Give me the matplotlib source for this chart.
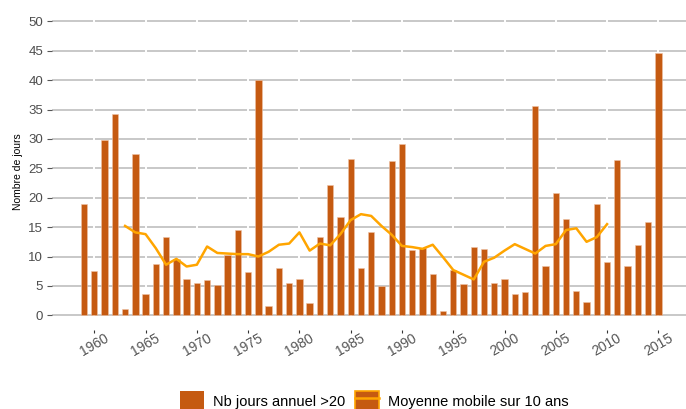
import matplotlib
matplotlib.use("Agg")
import matplotlib.pyplot as plt
from matplotlib.patches import Patch
from matplotlib.lines import Line2D
from matplotlib.legend_handler import HandlerTuple

# Annual number of days above 20, 1959-2015
years = list(range(1959, 2016))
jours = [19.0, 7.5, 29.8, 34.2, 1.1, 27.4, 3.7, 8.8, 13.4, 9.6,
         6.2, 5.5, 6.0, 5.2, 10.3, 14.5, 7.3, 40.0, 1.6, 8.0,
         5.5, 6.1, 2.1, 13.3, 22.2, 16.8, 26.6, 8.1, 14.2, 4.9,
         26.3, 29.1, 11.1, 11.4, 7.1, 0.7, 7.7, 5.3, 11.7, 11.2,
         5.5, 6.2, 3.6, 3.9, 35.6, 8.4, 20.8, 16.4, 4.2, 2.3,
         18.9, 9.0, 26.4, 8.4, 12.0, 15.8, 44.6]

# 10-year moving average
ma_years = list(range(1963, 2011))
moyenne = [15.2, 14.1, 13.8, 11.4, 8.6, 9.6, 8.3, 8.6, 11.7, 10.6,
           10.5, 10.4, 10.4, 10.0, 10.8, 12.0, 12.2, 14.1, 11.0, 12.2,
           11.9, 13.8, 16.2, 17.2, 16.9, 15.2, 13.7, 11.8, 11.6, 11.3,
           12.0, 9.9, 7.7, 6.9, 6.1, 9.1, 9.8, 11.0, 12.1, 11.3,
           10.5, 11.8, 12.1, 14.5, 14.8, 12.5, 13.3, 15.5]

x_ticks = list(range(1960, 2016, 5))
y_ticks = list(range(0, 51, 5))

bar_color = "#C55A11"
line_color = "#FFA500"
text_gray = "#4d4d4d"

plt.rcParams["font.family"] = ["Liberation Sans", "DejaVu Sans"]

fig = plt.figure(figsize=(6.86, 4.09), dpi=100)
ax = fig.add_axes([52 / 686, (409 - 330) / 409, (693 - 52) / 686, (330 - 6.6) / 409])

ax.bar(years, jours, width=0.62, color=bar_color, edgecolor="#efc3a6",
       linewidth=0.4, zorder=3)
ax.plot(ma_years, moyenne, color=line_color, linewidth=1.8, zorder=4,
        solid_joinstyle="round")

ax.set_xlim(1955.875, 2018.38)
ax.set_ylim(-2.5, 52.5)

for s in ax.spines.values():
    s.set_visible(False)

for v in y_ticks:
    ax.axhline(v, color="#c4c4c4", linewidth=1.3, zorder=1)
for v in x_ticks:
    ax.axvline(v, color="white", linewidth=1.4, zorder=2)

ax.set_yticks(y_ticks)
ax.set_yticklabels([str(v) for v in y_ticks], fontsize=9.5, color=text_gray)
ax.set_xticks(x_ticks)
ax.set_xticklabels([str(v) for v in x_ticks], fontsize=10, color="#555555",
                   rotation=30, ha="center")
ax.tick_params(axis="y", length=3.5, width=0.8, color="#555555", pad=3)
ax.tick_params(axis="x", length=2.5, width=0.8, color="#333333", pad=-2)

fig.text(18 / 686, (409 - 172) / 409, "Nombre de jours", rotation=90,
         ha="center", va="center", fontsize=7.5, color="black")

h_bar = Patch(facecolor=bar_color, edgecolor="none")
h_ma = (Patch(facecolor=bar_color, edgecolor=line_color, linewidth=1.2),
        Line2D([], [], color=line_color, linewidth=1.8))
fig.legend([h_bar, h_ma], ["Nb jours annuel >20", "Moyenne mobile sur 10 ans"],
           loc="center", bbox_to_anchor=(374.5 / 686, 0.02), ncol=2,
           frameon=False, fontsize=10.5, handlelength=1.65, handleheight=1.65,
           handletextpad=0.6, columnspacing=0.7,
           handler_map={tuple: HandlerTuple(ndivide=1, pad=0)})

fig.savefig("out.png", dpi=100)
